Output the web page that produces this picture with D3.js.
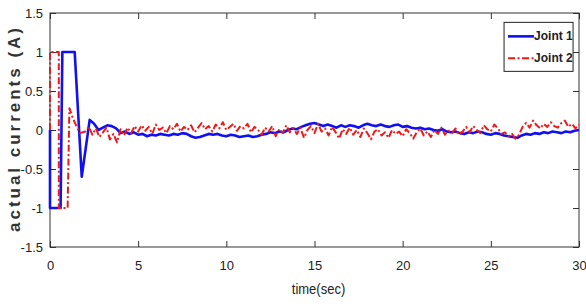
<html lang="en">
  <head>
    <meta charset="UTF-8" />
    <title>actual currents</title>
    <script src="https://d3js.org/d3.v7.min.js"></script>
    <style>
      * {
        margin: 0;
        padding: 0;
      }
      body {
        background: #fff;
      }
      text {
        font-family: "Liberation Sans Narrow", "Arial Narrow", "Liberation Sans", Arial, sans-serif;
      }
    </style>
  </head>
  <body>
    <div id="svgContainer"></div>
    <script>
      // x / y ticks
      const xTicks = [0, 5, 10, 15, 20, 25, 30];
      const yTicks = [-1.5, -1, -0.5, 0, 0.5, 1, 1.5];
      const seriesNames = ["Joint 1", "Joint 2"];

      // Joint 1: start-up transient (time, value)
      const joint1Start = [
        [0, 0], [0, -1], [0.6, -1], [0.7, 1], [1.4, 1], [1.8, -0.6],
      ];
      // Joint 1: after 2.25 s, one value every 0.25 s
      const joint1T0 = 2.25;
      const joint1Dt = 0.25;
      const joint1Values = [
        0.13, 0.08, 0.0, 0.03, 0.06, 0.05, 0.02, -0.04, -0.02, -0.05, -0.03,
        -0.06, -0.05, -0.08, -0.06, -0.07, -0.05, -0.06, -0.07, -0.05, -0.06,
        -0.04, -0.05, -0.08, -0.1, -0.09, -0.07, -0.05, -0.06, -0.05, -0.07,
        -0.08, -0.06, -0.07, -0.09, -0.08, -0.07, -0.09, -0.08, -0.06, -0.05,
        -0.03, -0.04, -0.02, -0.03, 0.0, 0.02, 0.01, 0.04, 0.06, 0.08, 0.09,
        0.07, 0.05, 0.07, 0.05, 0.03, 0.06, 0.04, 0.06, 0.05, 0.03, 0.06, 0.08,
        0.06, 0.05, 0.07, 0.05, 0.04, 0.06, 0.07, 0.04, 0.05, 0.03, 0.02, 0.03,
        0.01, 0.02, 0.0, -0.01, 0.01, -0.02, -0.03, -0.02, -0.04, -0.05, -0.03,
        -0.04, -0.02, -0.03, -0.05, -0.06, -0.04, -0.05, -0.07, -0.08, -0.09,
        -0.1, -0.07, -0.05, -0.06, -0.04, -0.05, -0.03, -0.04, -0.02, -0.03,
        -0.04, -0.02, -0.03, -0.01, 0.0,
      ];

      // Joint 2: start-up transient (time, value)
      const joint2Start = [
        [0, 0], [0, 1], [0.5, 1], [0.5, -1], [1.0, -1], [1.1, 0.28],
        [1.3, 0.15], [1.5, 0.05], [1.7, -0.04],
      ];
      // Joint 2: after 2 s, one value every 0.2 s
      const joint2T0 = 2.0;
      const joint2Dt = 0.2;
      const joint2Values = [
        -0.02, 0.04, -0.06, 0.02, -0.09, -0.03, 0.03, -0.12, -0.05, -0.16, 0.01, -0.07, 0.03, -0.04, 0.05,
        -0.02, 0.06, -0.01, 0.04, -0.05, 0.07, 0.0, 0.03, -0.04, 0.05, 0.01, 0.08, -0.02, 0.04, 0.0,
        0.06, -0.03, 0.03, 0.09, 0.01, 0.05, -0.02, 0.07, 0.02, 0.1, 0.0, 0.04, 0.08, -0.01, 0.05,
        0.02, 0.08, -0.03, 0.04, 0.0, -0.06, 0.03, -0.02, 0.05, -0.08, 0.01, -0.04, 0.06, -0.03, 0.02,
        -0.05, 0.03, -0.1, 0.0, 0.05, -0.04, 0.08, -0.02, 0.02, -0.07, 0.04, -0.03, -0.11, 0.01, -0.05,
        0.03, -0.06, 0.0, -0.09, 0.02, -0.04, -0.12, -0.02, 0.01, -0.07, -0.03, -0.1, 0.0, -0.05, -0.02,
        -0.08, 0.01, -0.04, -0.11, -0.03, 0.02, -0.07, -0.02, -0.09, 0.0, -0.05, 0.03, -0.06, -0.01, -0.04,
        0.02, -0.06, -0.02, 0.04, -0.03, 0.05, 0.0, -0.04, 0.06, 0.01, -0.02, 0.07, 0.02, -0.05, -0.03,
        -0.08, -0.05, -0.11, -0.06, 0.04, 0.09, 0.03, 0.12, 0.06, 0.02, 0.08, 0.04, 0.1, 0.05, 0.03,
        0.09, 0.12, 0.04, 0.08, 0.02, 0.07,
      ];

      const width = 586;
      const height = 306;
      const MARGIN = { left: 50, right: 7, top: 13, bottom: 59 };
      const innerW = width - MARGIN.left - MARGIN.right;
      const innerH = height - MARGIN.top - MARGIN.bottom;

      const svg = d3
        .select("#svgContainer")
        .append("svg")
        .attr("width", width)
        .attr("height", height);

      const g = svg
        .append("g")
        .attr("transform", `translate(${MARGIN.left}, ${MARGIN.top})`);

      const x = d3.scaleLinear().domain([0, 30]).range([0, innerW]);
      const y = d3.scaleLinear().domain([-1.5, 1.5]).range([innerH, 0]);

      // axes (ticks inside, box all round)
      const axisColor = "#333";
      const styleAxis = (sel) => {
        sel.select(".domain").remove();
        sel.selectAll(".tick line").attr("stroke", axisColor);
        sel.selectAll(".tick text")
          .attr("fill", "#222")
          .style("font-size", "13px");
      };

      g.append("g")
        .attr("transform", `translate(0,${innerH})`)
        .call(d3.axisBottom(x).tickValues(xTicks).tickSizeInner(-6).tickPadding(14).tickFormat(d3.format("d")))
        .call(styleAxis);

      g.append("g")
        .call(d3.axisTop(x).tickValues(xTicks).tickSizeInner(-6).tickFormat(""))
        .call(styleAxis);

      g.append("g")
        .call(d3.axisLeft(y).tickValues(yTicks).tickSizeInner(-6).tickPadding(7).tickFormat((d) => String(d)))
        .call(styleAxis);

      g.append("g")
        .attr("transform", `translate(${innerW},0)`)
        .call(d3.axisRight(y).tickValues(yTicks).tickSizeInner(-6).tickFormat(""))
        .call(styleAxis);

      g.append("rect")
        .attr("width", innerW)
        .attr("height", innerH)
        .attr("fill", "none")
        .attr("stroke", axisColor)
        .attr("stroke-width", 1);

      // build series
      const joint1 = joint1Start.concat(
        joint1Values.map((v, i) => [joint1T0 + i * joint1Dt, v])
      );
      const joint2 = joint2Start.concat(
        joint2Values.map((v, i) => [joint2T0 + i * joint2Dt, v])
      );

      const line = d3
        .line()
        .x((d) => x(d[0]))
        .y((d) => y(d[1]));

      const plot = g.append("g");

      plot.append("path")
        .datum(joint1)
        .attr("fill", "none")
        .attr("stroke", "#1010f0")
        .attr("stroke-width", 2.6)
        .attr("stroke-linejoin", "round")
        .attr("d", line);

      plot.append("path")
        .datum(joint2)
        .attr("fill", "none")
        .attr("stroke", "#f01818")
        .attr("stroke-width", 2)
        .attr("stroke-dasharray", "7,2.5,2,2.5")
        .attr("stroke-linejoin", "round")
        .attr("d", line);

      // legend
      const legend = g.append("g").attr("transform", `translate(${x(25.75)},${y(1.38)})`);
      legend.append("rect")
        .attr("width", 69)
        .attr("height", 49)
        .attr("fill", "#fff")
        .attr("stroke", "#222")
        .attr("stroke-width", 1);

      const legendStyles = [
        { color: "#1010f0", dash: null, w: 2.6 },
        { color: "#f01818", dash: "7,2.5,2,2.5", w: 2 },
      ];
      seriesNames.forEach((name, i) => {
        const yy = 14 + i * 22;
        legend.append("line")
          .attr("x1", 4)
          .attr("x2", 30)
          .attr("y1", yy)
          .attr("y2", yy)
          .attr("stroke", legendStyles[i].color)
          .attr("stroke-width", legendStyles[i].w)
          .attr("stroke-dasharray", legendStyles[i].dash);
        legend.append("text")
          .attr("x", 30)
          .attr("y", yy + 4)
          .style("font-size", "12px")
          .style("font-weight", "bold")
          .attr("fill", "#222")
          .text(name);
      });

      // axis titles
      svg.append("text")
        .attr("transform", `translate(${MARGIN.left + innerW / 2 + 4},${height - 12}) scale(1,1.15)`)
        .attr("text-anchor", "middle")
        .style("font-size", "13px")
        .attr("fill", "#222")
        .text("time(sec)");

      svg.append("text")
        .attr("transform", `translate(20,${MARGIN.top + innerH / 2}) rotate(-90)`)
        .attr("text-anchor", "middle")
        .attr("textLength", 204)
        .attr("lengthAdjust", "spacing")
        .style("font-family", "'Liberation Sans', Arial, sans-serif")
        .style("font-size", "17px")
        .style("font-weight", "bold")
        .attr("fill", "#333")
        .text("actual currents (A)");
    </script>
  </body>
</html>
